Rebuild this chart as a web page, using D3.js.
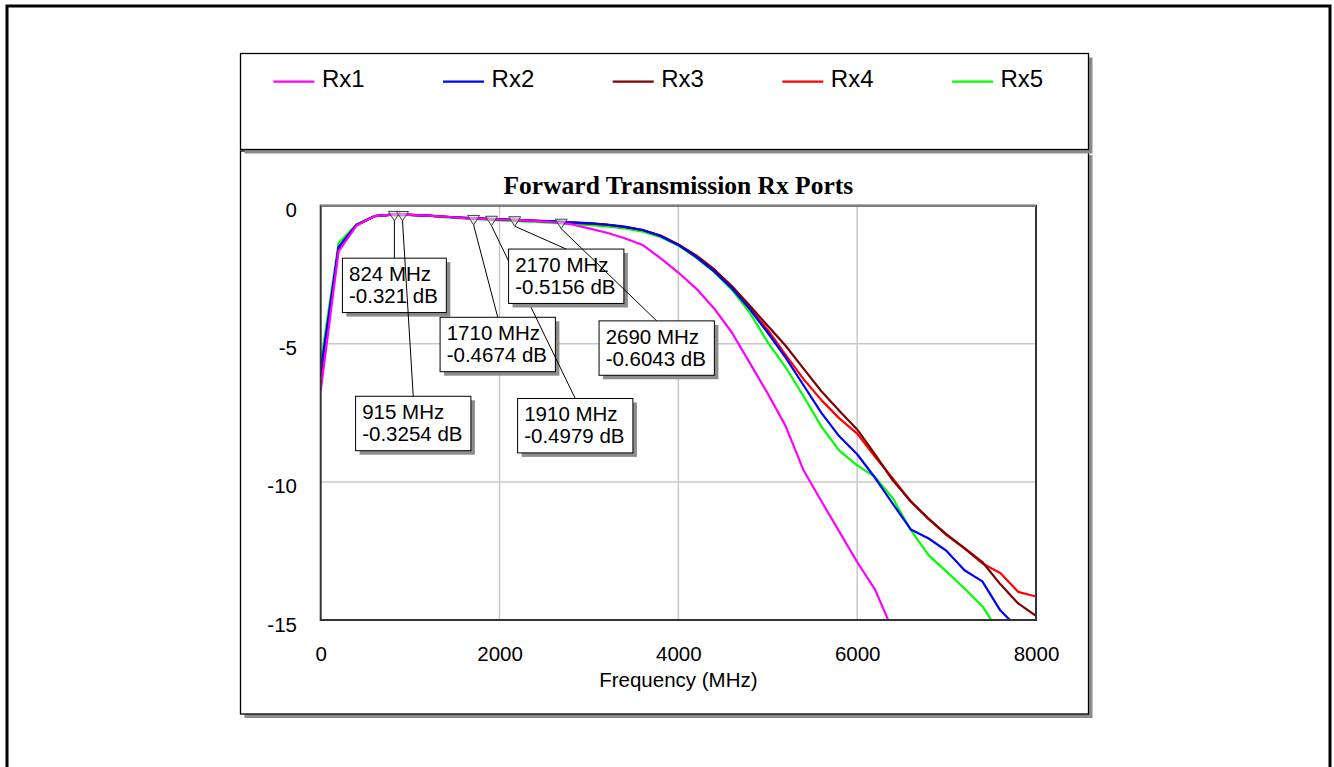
<!DOCTYPE html>
<html>
<head>
<meta charset="utf-8">
<script src="https://cdn.jsdelivr.net/npm/d3@7"></script>
<style>
  body { margin: 0; background: #fff; }
  text { font-family: "Liberation Sans", Arial, sans-serif; fill: #000; }
</style>
</head>
<body>
<div id="chart"></div>
<script>
// frequency grid (MHz)
const freqs = [0, 200, 400, 600, 800, 1000, 1200, 1400, 1600, 1800, 2000, 2200, 2400, 2600, 2800,
  3000, 3200, 3400, 3600, 3800, 4000, 4200, 4400, 4600, 4800, 5000, 5200, 5400, 5600, 5800,
  6000, 6200, 6400, 6600, 6800, 7000, 7200, 7400, 7600, 7800, 8000];

// S21 in dB (series stop once they leave the plot)
const rx1 = [-6.7, -1.65, -0.72, -0.38, -0.32, -0.33, -0.36, -0.40, -0.45, -0.48, -0.50, -0.52, -0.55, -0.60, -0.67,
  -0.82, -0.98, -1.18, -1.42, -1.90, -2.42, -3.00, -3.72, -4.60, -5.70, -6.80, -7.98, -9.58, -10.70, -11.80,
  -12.90, -13.90, -15.40];
const rx2 = [-6.0, -1.50, -0.70, -0.38, -0.32, -0.33, -0.36, -0.40, -0.44, -0.47, -0.49, -0.51, -0.54, -0.57, -0.60,
  -0.63, -0.68, -0.76, -0.88, -1.10, -1.42, -1.86, -2.38, -3.00, -3.75, -4.60, -5.50, -6.50, -7.50, -8.35,
  -9.00, -9.85, -10.80, -11.72, -12.05, -12.50, -13.20, -13.60, -14.65, -15.30];
const rx3 = [-6.2, -1.55, -0.70, -0.38, -0.32, -0.33, -0.36, -0.40, -0.44, -0.47, -0.50, -0.52, -0.55, -0.58, -0.61,
  -0.64, -0.69, -0.77, -0.88, -1.08, -1.40, -1.80, -2.30, -2.92, -3.62, -4.35, -5.07, -5.90, -6.72, -7.42,
  -8.10, -9.00, -9.95, -10.70, -11.35, -11.90, -12.40, -12.90, -13.70, -14.40, -14.85];
const rx4 = [-6.1, -1.50, -0.70, -0.38, -0.32, -0.33, -0.36, -0.40, -0.44, -0.47, -0.50, -0.52, -0.55, -0.58, -0.61,
  -0.64, -0.69, -0.77, -0.88, -1.09, -1.41, -1.83, -2.33, -2.96, -3.70, -4.50, -5.40, -6.28, -7.04, -7.70,
  -8.25, -9.09, -9.88, -10.72, -11.33, -11.93, -12.41, -12.95, -13.30, -13.98, -14.15];
const rx5 = [-5.7, -1.35, -0.68, -0.38, -0.33, -0.34, -0.37, -0.42, -0.46, -0.50, -0.53, -0.56, -0.59, -0.62, -0.66,
  -0.70, -0.75, -0.82, -0.94, -1.13, -1.44, -1.88, -2.40, -3.05, -3.88, -4.95, -5.85, -6.90, -8.00, -8.87,
  -9.40, -9.82, -10.60, -11.75, -12.66, -13.25, -13.86, -14.50, -15.50];

const seriesNames = ["Rx1", "Rx2", "Rx3", "Rx4", "Rx5"];
const seriesValues = [rx1, rx2, rx3, rx4, rx5];
const seriesColors = ["#ff00ff", "#0000ff", "#800000", "#ff0000", "#00ff00"];

const markerFreqs = [824, 915, 1710, 1910, 2170, 2690];
const markerValues = [-0.321, -0.3254, -0.4674, -0.4979, -0.5156, -0.6043];

const xTicks = [0, 2000, 4000, 6000, 8000];
const yTicks = [0, -5, -10, -15];

const titleText = "Forward Transmission Rx Ports";
const xLabel = "Frequency (MHz)";

// where each callout box sits (top centre of the box, in data units)
const calloutAt = [[824, -1.9], [1035, -6.9], [1980, -4.04], [2847, -6.98], [2746, -1.57], [3758, -4.17]];

const W = 1334, H = 767;
const plot = { left: 320.7, right: 1036, top: 205.7, bottom: 620 };

const svg = d3.select("#chart").append("svg")
  .attr("width", W)
  .attr("height", H);

// outer page frame
svg.append("rect")
  .attr("x", 7).attr("y", 6)
  .attr("width", 1323).attr("height", 800)
  .attr("fill", "none")
  .attr("stroke", "#000")
  .attr("stroke-width", 3);

function panel(x, y, w, h) {
  svg.append("rect")
    .attr("x", x + 4).attr("y", y + 4)
    .attr("width", w).attr("height", h)
    .attr("fill", "#8c8c8c");
  svg.append("rect")
    .attr("x", x).attr("y", y)
    .attr("width", w).attr("height", h)
    .attr("fill", "#fff")
    .attr("stroke", "#000")
    .attr("stroke-width", 1.3);
}

panel(240.5, 151, 848, 563);
panel(240.5, 53.5, 848, 96);

// legend
const legendX = d3.scalePoint()
  .domain(seriesNames)
  .range([273.4, 952]);

const legend = svg.append("g");
seriesNames.forEach((name, i) => {
  const lx = legendX(name);
  legend.append("line")
    .attr("x1", lx).attr("x2", lx + 41)
    .attr("y1", 81.7).attr("y2", 81.7)
    .attr("stroke", seriesColors[i])
    .attr("stroke-width", 2.2);
  legend.append("text")
    .attr("x", lx + 48.5)
    .attr("y", 87)
    .style("font-size", "24px")
    .text(name);
});

const x = d3.scaleLinear().domain([0, 8000]).range([plot.left, plot.right]);
const y = d3.scaleLinear().domain([-15, 0]).range([plot.bottom, plot.top]);

// title
svg.append("text")
  .attr("x", (plot.left + plot.right) / 2)
  .attr("y", 194)
  .attr("text-anchor", "middle")
  .style("font-family", "'Liberation Serif', 'Times New Roman', serif")
  .style("font-weight", "bold")
  .style("font-size", "25.5px")
  .text(titleText);

// grid
const grid = svg.append("g")
  .attr("stroke", "#c8c8c8")
  .attr("stroke-width", 1.5);
grid.selectAll(".gx")
  .data(xTicks.slice(1, -1))
  .enter().append("line")
  .attr("x1", d => x(d)).attr("x2", d => x(d))
  .attr("y1", plot.top).attr("y2", plot.bottom);
grid.selectAll(".gy")
  .data(yTicks.slice(1, -1))
  .enter().append("line")
  .attr("x1", plot.left).attr("x2", plot.right)
  .attr("y1", d => y(d)).attr("y2", d => y(d));

// axes (labels only), plain hyphen for negatives
const plain = d => String(d);
const xAxis = svg.append("g")
  .attr("transform", `translate(0,${plot.bottom})`)
  .call(d3.axisBottom(x).tickValues(xTicks).tickSize(0).tickPadding(26).tickFormat(plain));
const yAxis = svg.append("g")
  .attr("transform", `translate(${plot.left},0)`)
  .call(d3.axisLeft(y).tickValues(yTicks).tickSize(0).tickPadding(23.7).tickFormat(plain));

[xAxis, yAxis].forEach(a => {
  a.select(".domain").remove();
  a.selectAll("text")
    .attr("fill", "#000")
    .style("font-family", "'Liberation Sans', Arial, sans-serif")
    .style("font-size", "20.5px");
});
yAxis.selectAll("text").attr("dy", "11px");

svg.append("text")
  .attr("x", (plot.left + plot.right) / 2)
  .attr("y", 687.3)
  .attr("text-anchor", "middle")
  .style("font-size", "20.5px")
  .text(xLabel);

// curves
svg.append("clipPath")
  .attr("id", "plot-clip")
  .append("rect")
  .attr("x", plot.left).attr("y", plot.top)
  .attr("width", plot.right - plot.left)
  .attr("height", plot.bottom - plot.top);

const line = d3.line()
  .x((d, i) => x(freqs[i]))
  .y(d => y(d));

const curves = svg.append("g").attr("clip-path", "url(#plot-clip)");
[4, 3, 2, 1, 0].forEach(i => {
  curves.append("path")
    .attr("d", line(seriesValues[i]))
    .attr("fill", "none")
    .attr("stroke", seriesColors[i])
    .attr("stroke-width", 2.2)
    .attr("stroke-linejoin", "round");
});

// plot frame
svg.append("rect")
  .attr("x", plot.left).attr("y", plot.top)
  .attr("width", plot.right - plot.left)
  .attr("height", plot.bottom - plot.top)
  .attr("fill", "none")
  .attr("stroke", "#333")
  .attr("stroke-width", 2);
svg.append("line")
  .attr("x1", plot.left).attr("x2", plot.right)
  .attr("y1", plot.top).attr("y2", plot.top)
  .attr("stroke", "#808080")
  .attr("stroke-width", 2);

// markers
const markers = svg.append("g");
markerFreqs.forEach((f, i) => {
  const mx = x(f), my = y(markerValues[i]);
  markers.append("path")
    .attr("d", `M${mx - 6},${my - 3.2}L${mx + 6},${my - 3.2}L${mx},${my + 6.3}Z`)
    .attr("fill", "#d8d8d8")
    .attr("fill-opacity", 0.6)
    .attr("stroke", "#444")
    .attr("stroke-width", 1);
});

// callouts, drawn in order so later leaders cross earlier boxes
const callouts = svg.append("g");
markerFreqs.forEach((f, i) => {
  const mx = x(f), my = y(markerValues[i]) + 6.3;
  const cx = x(calloutAt[i][0]), cy = y(calloutAt[i][1]);
  callouts.append("line")
    .attr("x1", mx).attr("y1", my)
    .attr("x2", cx).attr("y2", cy)
    .attr("stroke", "#000")
    .attr("stroke-width", 1);

  const g = callouts.append("g");
  const shadow = g.append("rect").attr("fill", "#8c8c8c");
  const box = g.append("rect")
    .attr("fill", "#fff")
    .attr("stroke", "#000")
    .attr("stroke-width", 1);
  const lines = [`${f} MHz`, `${markerValues[i]} dB`];
  const texts = lines.map((t, k) => g.append("text")
    .attr("y", cy + 22.7 + k * 22.3)
    .style("font-size", "20.5px")
    .text(t));
  const tw = d3.max(texts, t => t.node().getComputedTextLength());
  const bw = tw + 15, bh = 54.4;
  const bx = cx - bw / 2;
  texts.forEach(t => t.attr("x", bx + 6.6));
  box.attr("x", bx).attr("y", cy).attr("width", bw).attr("height", bh);
  shadow.attr("x", bx + 4).attr("y", cy + 4).attr("width", bw).attr("height", bh);
});
</script>
</body>
</html>
